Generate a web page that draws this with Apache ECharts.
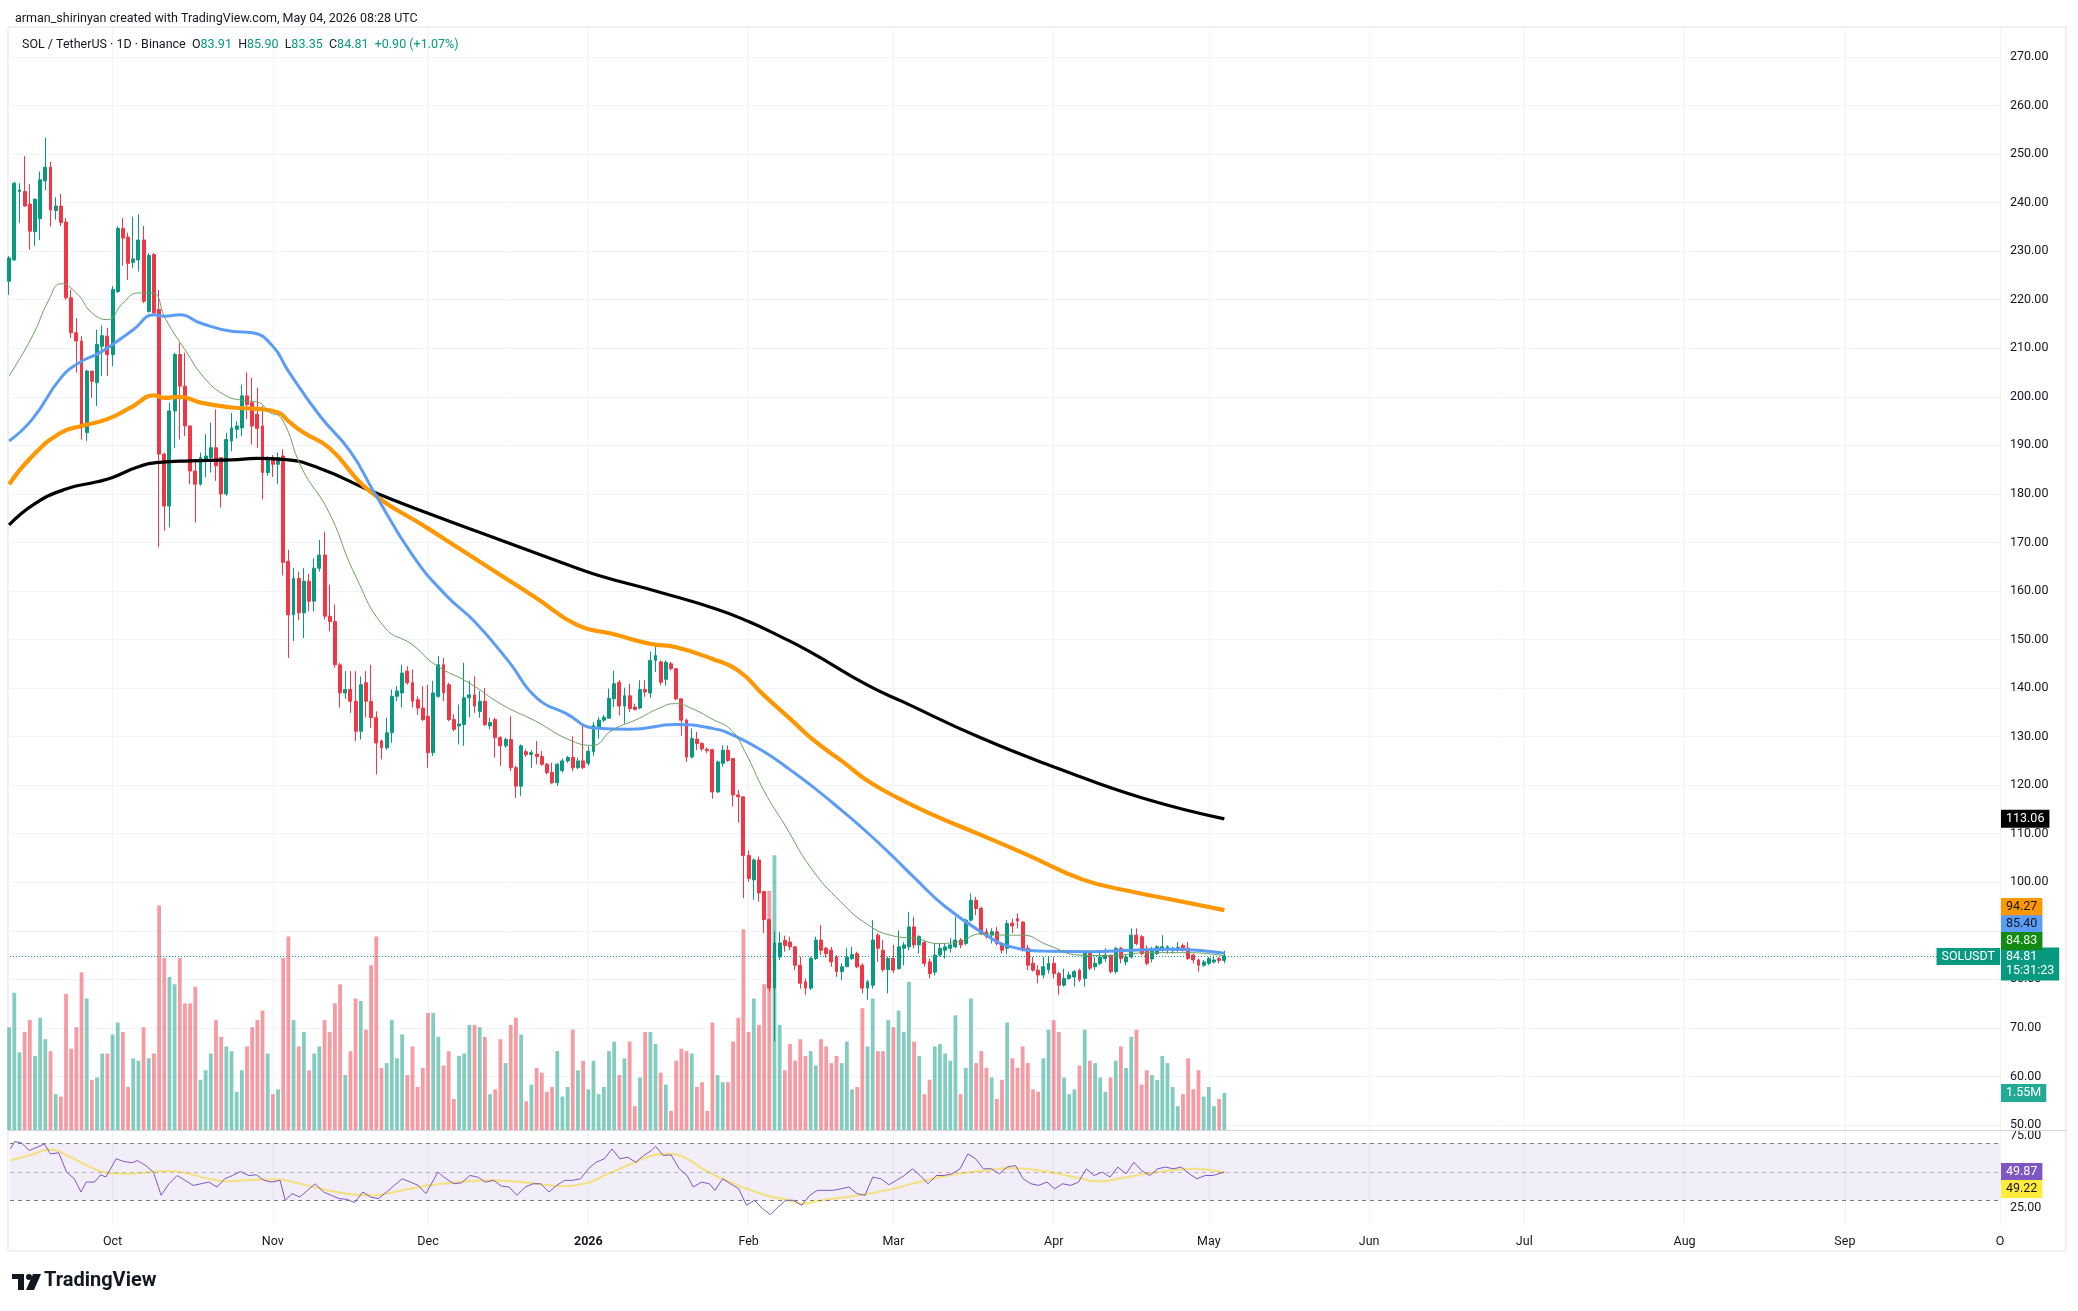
<!DOCTYPE html>
<html><head><meta charset="utf-8">
<script src="https://cdn.jsdelivr.net/npm/echarts@6/dist/echarts.min.js"></script>
<style>html,body{margin:0;padding:0;background:#fff}#chart{width:2078px;height:1311px}</style>
</head><body><div id="chart"></div>
<script>
// ---------------- DATA ----------------
const START = Date.UTC(2025, 8, 11);   // first daily candle: 11 Sep 2025
const DAY = 86400000;
// daily candles [open, high, low, close]
const ohlc = [
[223.8,229.0,221.0,228.6],[228.2,244.3,228.0,244.0],[242.3,244.0,235.8,242.6],[242.3,249.6,239.2,239.3],[239.7,243.8,230.3,234.1],
[234.0,240.9,231.1,240.7],[236.7,246.4,232.3,244.7],[244.5,253.4,242.6,247.3],[247.3,248.4,235.1,238.5],[238.4,241.1,236.5,239.3],
[239.3,241.8,235.2,235.9],[236.0,236.8,220.0,220.4],[220.4,222.1,212.1,213.2],[213.2,216.2,205.0,211.5],[211.5,212.5,191.2,193.6],
[192.6,205.6,190.9,205.3],[205.3,205.3,199.8,203.2],[202.9,213.8,198.1,210.8],[210.4,214.7,204.3,212.6],[212.5,214.2,204.3,208.7],
[208.7,222.8,206.3,222.1],[221.7,235.1,221.4,234.7],[234.7,236.8,227.0,232.7],[232.9,233.8,224.1,227.5],[227.7,237.1,226.5,228.4],
[228.2,237.6,225.8,232.3],[232.3,235.2,219.3,219.7],[217.6,229.6,217.3,229.1],[229.3,229.6,216.9,217.3],[218.0,222.0,169.0,188.2],
[188.2,188.5,172.4,177.5],[177.5,198.8,173.1,197.1],[197.1,209.1,189.5,208.7],[208.7,211.1,191.2,202.2],[202.2,209.1,191.9,194.0],
[194.0,194.0,182.0,184.7],[184.7,187.1,174.1,182.0],[182.0,188.5,181.7,187.5],[187.1,192.3,183.4,187.8],[187.5,194.7,184.4,189.5],
[189.5,197.4,182.7,185.8],[187.5,187.5,177.2,180.0],[180.0,192.6,179.6,191.2],[190.9,196.7,188.8,193.6],[193.3,195.0,191.4,194.0],
[193.6,202.5,191.9,200.2],[200.2,205.0,195.4,198.4],[198.8,203.9,190.2,194.0],[196.4,201.9,189.5,193.5],[194.0,198.1,178.9,184.4],
[184.4,187.8,183.7,187.5],[187.5,188.0,183.5,186.1],[186.1,188.5,182.0,187.5],[187.8,189.2,163.2,165.9],[166.1,168.5,146.2,155.1],
[155.1,164.7,149.7,162.6],[162.6,164.0,154.0,155.5],[155.5,164.7,150.3,162.0],[162.0,163.5,155.8,157.9],[157.9,166.7,155.8,164.7],
[164.7,170.5,164.0,167.4],[167.4,172.2,154.1,154.8],[154.8,161.3,151.7,153.7],[153.7,157.2,144.2,144.8],[144.8,145.2,136.0,139.0],
[139.0,143.5,137.8,139.7],[139.7,143.5,134.9,137.3],[137.3,143.5,129.1,131.1],[131.1,142.4,129.4,140.7],[141.1,143.5,133.9,137.3],
[137.3,144.8,131.8,133.9],[133.9,135.2,122.2,128.7],[129.1,129.4,125.3,127.7],[127.7,133.9,127.3,130.8],[130.8,139.7,128.7,138.3],
[138.3,140.4,137.3,139.4],[139.0,144.8,136.0,143.1],[143.5,144.5,140.7,141.1],[141.1,143.8,136.0,137.3],[137.6,138.3,134.5,135.9],
[135.9,140.4,133.2,133.5],[134.2,140.7,123.6,126.7],[126.7,141.5,126.0,139.0],[138.3,146.6,138.0,144.8],[144.8,146.2,137.3,139.0],
[140.7,141.1,133.2,133.5],[133.5,134.6,131.1,131.5],[132.2,136.6,128.4,132.6],[132.5,145.2,128.1,138.0],[138.0,141.5,134.0,138.6],
[138.6,142.4,134.9,136.3],[135.2,139.4,133.9,137.3],[137.3,140.0,132.2,132.5],[132.2,133.9,131.5,132.9],[133.5,133.9,125.7,129.8],
[129.8,130.1,124.0,128.1],[128.1,129.8,127.7,129.4],[129.4,134.2,122.9,123.6],[123.6,124.0,117.4,119.8],[119.8,128.4,117.8,128.1],
[126.9,127.4,125.8,126.3],[126.3,127.2,123.6,126.7],[126.4,129.1,124.3,125.9],[125.9,127.0,124.0,124.3],[124.3,124.6,122.2,122.6],
[122.6,124.6,120.2,120.5],[120.5,124.6,119.8,124.3],[123.0,125.5,122.6,125.0],[125.0,126.0,124.6,125.7],[125.7,130.1,122.9,123.6],
[123.6,125.7,123.3,125.0],[125.0,132.2,123.3,123.6],[124.5,128.0,124.0,127.0],[126.9,133.0,126.0,132.3],[132.0,134.0,129.6,133.4],
[133.4,134.5,133.0,134.0],[133.8,139.9,133.8,137.9],[137.8,143.6,136.1,140.9],[141.2,141.6,134.4,136.3],[136.3,140.1,132.7,138.4],
[138.4,140.9,135.1,135.8],[136.1,136.8,135.4,135.6],[135.9,141.6,135.6,139.7],[139.7,141.6,138.2,139.2],[139.0,147.5,138.0,145.7],
[145.7,148.6,143.3,146.7],[145.4,145.7,140.6,141.2],[141.8,145.7,140.5,145.3],[145.0,145.4,143.6,144.0],[144.0,144.1,137.5,137.8],
[137.8,137.8,130.2,133.4],[133.4,133.7,124.8,125.8],[125.8,131.7,125.5,129.6],[129.5,131.0,127.2,128.6],[128.6,128.8,127.0,127.5],
[127.4,127.8,126.6,127.1],[127.3,127.5,117.2,118.6],[118.6,125.1,118.4,124.8],[124.5,128.2,123.8,127.2],[127.2,128.2,124.8,125.1],
[125.5,125.6,115.6,118.0],[118.0,119.0,112.3,117.6],[117.6,117.6,96.7,105.5],[105.5,106.5,100.1,100.8],[100.5,104.9,96.4,104.6],
[104.6,105.3,96.0,97.8],[98.1,98.1,89.5,92.3],[92.3,92.5,77.5,78.2],[78.2,89.9,67.2,87.5],[84.6,89.8,84.0,87.5],
[88.0,89.0,85.7,87.0],[87.7,88.8,86.0,86.7],[86.7,86.7,81.9,82.9],[82.9,84.7,78.1,79.2],[79.5,80.2,76.8,78.2],
[78.2,84.7,77.8,84.3],[84.3,88.8,84.0,88.1],[88.1,91.2,85.0,86.0],[86.4,86.7,84.5,85.3],[86.0,86.7,82.6,83.6],
[84.6,85.0,80.5,81.6],[81.6,83.3,79.9,82.6],[82.6,86.4,82.6,84.6],[84.3,86.7,84.0,85.1],[85.3,85.7,82.3,82.6],
[82.9,83.3,77.1,78.2],[78.2,79.9,75.8,79.5],[78.8,92.2,78.1,88.1],[89.1,89.5,83.6,86.4],[86.0,88.1,81.6,82.0],
[82.0,84.7,77.1,84.3],[84.3,87.1,81.3,81.9],[82.2,90.1,82.0,86.7],[86.4,87.7,82.9,87.1],[86.7,93.9,86.0,90.8],
[90.8,92.9,86.4,87.1],[87.1,89.1,85.3,88.8],[87.6,88.0,82.6,83.3],[83.6,84.3,80.2,81.2],[81.5,87.4,80.8,85.0],
[85.0,87.4,84.7,86.4],[86.0,87.4,84.3,86.7],[86.4,88.5,85.5,87.1],[86.7,92.9,86.4,88.1],[88.1,88.5,86.4,87.1],
[87.4,92.5,87.0,92.2],[92.2,97.7,91.9,96.3],[96.3,97.0,93.2,94.6],[94.6,95.0,89.1,89.4],[89.8,90.5,88.4,88.8],
[89.1,90.5,87.4,89.8],[89.8,90.8,87.0,87.4],[87.4,87.7,85.3,86.0],[86.4,92.2,85.3,91.5],[91.6,92.5,89.5,91.0],
[92.5,93.6,90.5,92.0],[91.8,92.0,85.7,86.0],[86.4,87.1,81.9,82.9],[83.3,84.6,81.6,81.9],[81.9,82.9,79.2,80.9],
[80.9,84.6,80.2,82.6],[82.0,84.6,81.2,83.3],[83.3,84.6,80.2,81.2],[81.2,81.6,76.8,78.8],[78.8,82.2,78.5,80.2],
[80.2,81.6,79.9,80.9],[80.5,81.9,78.5,81.6],[81.9,82.2,79.5,79.9],[80.2,86.0,78.5,85.7],[85.7,86.0,81.9,82.3],
[82.6,84.6,81.9,83.3],[83.3,86.0,82.9,84.6],[84.3,86.4,83.6,85.0],[85.0,85.0,81.2,81.6],[81.6,86.7,81.2,86.4],
[86.4,86.7,83.3,84.3],[83.6,85.0,82.9,84.6],[84.6,90.5,84.3,89.1],[89.1,90.5,87.0,87.4],[88.8,89.1,85.0,85.3],
[86.0,87.0,82.9,83.3],[84.2,86.7,83.5,86.0],[85.3,87.0,85.0,86.7],[86.0,89.1,85.7,86.7],[86.4,87.0,85.3,86.7],
[86.0,86.7,85.3,86.4],[86.3,87.7,85.7,86.6],[87.0,87.4,85.7,86.0],[86.4,87.7,84.0,84.3],[85.0,85.3,83.3,84.0],
[84.0,84.3,81.6,82.9],[82.9,84.0,82.6,83.6],[83.3,84.6,82.9,84.3],[83.6,84.9,83.3,84.0],[84.3,84.6,83.3,83.91],
[83.91,85.90,83.35,84.81]
];
// daily volume, millions of SOL
const volumes = [
4.3,5.75,3.25,4.1,4.6,3.1,4.7,3.8,3.3,1.5, 1.4,5.7,3.4,4.3,6.6,5.5,2.1,2.2,3.2,3.2,
4.0,4.5,4.1,1.8,3.0,2.9,4.3,3.0,3.2,9.4, 7.2,6.4,6.1,7.2,5.3,5.3,6.0,2.1,2.5,3.2,
4.6,3.9,3.5,3.3,1.6,2.5,3.5,4.3,4.6,5.0, 3.2,1.5,1.7,7.2,8.1,4.6,3.5,4.1,2.5,3.2,
3.5,4.6,4.1,5.3,6.1,2.3,3.3,5.5,5.4,4.2, 6.9,8.1,2.6,2.8,4.6,3.0,4.0,2.3,3.5,1.8,
2.6,4.9,4.9,3.9,2.7,3.3,1.3,3.1,3.2,4.4, 4.4,4.3,3.9,1.5,1.7,3.8,2.8,4.4,4.7,4.0,
1.2,1.9,2.6,2.4,1.6,1.8,3.3,1.4,1.8,4.2, 2.5,2.9,1.7,2.9,1.5,1.8,3.3,3.7,2.3,3.0,
3.7,1.0,2.2,4.1,4.1,3.6,2.4,1.9,0.8,2.9, 3.4,3.3,3.2,1.8,2.0,0.8,4.5,2.3,2.0,2.0,
3.7,4.7,8.4,4.1,5.5,4.4,6.1,10.0,11.5,4.4, 2.5,3.6,2.9,3.8,3.1,3.3,2.7,3.8,3.5,2.8,
3.1,2.8,3.7,1.7,1.8,5.1,3.5,5.5,3.3,3.3, 4.6,4.3,5.0,4.1,6.2,3.7,3.1,1.5,2.1,3.5,
3.6,3.2,2.9,4.8,1.5,2.6,5.5,2.8,3.3,2.6, 2.2,1.3,2.1,4.5,3.0,2.6,3.5,2.8,1.7,1.6,
3.0,4.2,4.6,4.1,2.2,1.5,1.7,2.7,4.2,2.9, 2.8,2.2,1.6,2.2,2.9,3.5,2.6,3.9,4.2,1.9,
2.5,2.3,2.1,3.1,2.8,1.8,1.0,1.5,3.0,1.7, 2.5,1.4,1.8,1.0,1.3,1.55
];
// moving averages: [day index, value]
const ma20 = [[0,204.3],[4.5,212.5],[7.7,220],[10,223.3],[13,221.4],[16,217.3],[19,215.9],[22,219.3],[25,221.4],[27.7,221.4],[30.3,215.9],[34,209.7],[38,203.6],[42,200.2],[45,199.3],[48.4,198.8],[50.2,196.9],[52.7,195.5],[56.6,185.3],[61.8,176.3],[66.9,163.3],[72.7,152.4],[77.9,149],[82.4,144.8],[88.9,141.1],[95.3,136.6],[101.8,133.2],[108.2,129.4],[112.8,128.2],[116.6,131.3],[121.7,133.7],[125.6,135.8],[128.8,136.8],[132,135.8],[135.8,133.7],[139.7,131.3],[142.3,126.9],[146.1,118.6],[150,111.8],[155.1,102.9],[160.8,96],[166,91.3],[170.8,89],[175.5,88.4],[179.5,87.4],[183.4,87.7],[188.1,89.4],[192.9,89.1],[196,89.1],[200.8,87.1],[207.1,85],[212.6,84.9],[220.5,85.5],[228.4,85.5],[235,84.83]];
const ma50 = [[0,190.9],[4.5,195.4],[10,203.9],[13.5,207],[17.4,209],[20,210.8],[24,213.8],[28,216.9],[30,216.6],[33,216.9],[37,215.2],[43,213.5],[47,213.2],[51,210.4],[54,205.3],[60,196.2],[66,188.7],[70.5,180.5],[78,167.4],[84.4,159.2],[90,153.7],[96.6,145.5],[102,138],[108,134.6],[113,131.8],[120,131.5],[129,132.5],[136,131.7],[140,130.3],[146,126.9],[151,123.2],[156,119.2],[161,114.8],[166,110.2],[171,105.2],[175,101],[181,95],[189,89.1],[193,86.9],[201,85.8],[209,85.7],[217,86],[224.5,86.2],[235,85.4]];
const ma100 = [[0,182],[4.5,187.8],[10,192.6],[14,194],[19,195.4],[24,198.1],[28,200.3],[30,199.8],[33,200],[37,198.8],[43,197.8],[48,197.5],[52,196.8],[54,195],[57,192.6],[62,189.4],[69.5,180.8],[81,172.9],[89,167.4],[95,163.3],[102,158.5],[110,152.9],[116.6,151.2],[124,149.1],[129,148.4],[136,146],[141,143.6],[146,138.5],[151,133.7],[156,128.9],[161.5,124.6],[166,120.9],[172,117.3],[178,114.2],[188,109.7],[197,105.6],[207.5,100.6],[217,98.1],[224.5,96.5],[235,94.27]];
const ma200 = [[0,173.6],[5,178],[11,181],[17,182.5],[20,183.4],[25,185.6],[29,186.5],[35,186.8],[43,187],[48,187.3],[53,187.1],[60,185.3],[70,180.6],[81,176],[95,170.5],[108,165.4],[114,163.2],[126,159.7],[137,156.2],[143,153.7],[149,150.7],[155,147.4],[166,140.6],[173,137.1],[188,129.7],[203,123.4],[219,117.4],[235,113.06]];
// RSI(14) and its moving average: [day index, value]
const rsi = [[0.2,66.0],[1.1,71.2],[2.4,70.2],[3.9,64.9],[5.4,67.2],[6.8,69.5],[8.0,62.6],[9.6,63.3],[11.1,49.8],[12.6,45.1],[13.9,35.8],[14.9,42.8],[16.5,42.8],[17.7,47.9],[18.7,46.3],[20.7,59.1],[22.2,57.2],[23.8,56.3],[24.8,57.9],[26.4,54.4],[27.9,49.8],[29.4,33.5],[30.9,41.6],[32.5,47.4],[34.0,44.0],[35.6,40.5],[37.1,41.6],[38.6,42.8],[40.2,39.3],[41.7,45.1],[43.2,47.4],[44.7,50.2],[46.3,47.4],[47.8,47.9],[49.3,44.0],[50.8,42.8],[52.4,44.0],[53.4,30.0],[54.7,34.7],[56.2,32.3],[57.7,37.0],[59.2,41.6],[60.8,35.8],[62.3,33.5],[63.8,31.2],[65.3,30.7],[66.8,28.4],[68.4,35.8],[69.9,32.3],[71.4,31.2],[73.0,35.8],[74.5,40.5],[76.0,45.1],[77.6,42.8],[79.1,40.5],[80.6,34.7],[82.2,45.1],[82.9,49.8],[84.5,45.1],[86.0,41.6],[87.5,42.3],[89.1,47.4],[90.6,46.3],[92.1,42.8],[93.7,44.0],[95.2,40.0],[96.7,39.3],[98.2,33.5],[99.8,39.3],[101.3,41.6],[102.8,41.6],[104.4,35.8],[105.9,40.5],[107.4,44.0],[108.9,44.0],[110.5,45.1],[112.0,52.1],[113.5,56.7],[115.1,59.1],[116.6,66.0],[118.1,59.1],[119.6,60.2],[121.2,56.7],[122.7,61.4],[124.2,64.9],[125.0,67.9],[126.5,61.4],[128.0,61.9],[129.6,52.1],[131.1,47.4],[132.3,39.3],[133.9,42.8],[135.4,41.6],[136.5,37.0],[138.0,45.1],[139.5,41.6],[141.1,38.1],[142.6,26.5],[144.1,30.0],[145.7,24.2],[147.2,20.0],[148.7,25.3],[150.2,30.0],[151.7,30.0],[153.3,26.5],[154.8,33.5],[156.3,37.0],[157.8,37.0],[159.4,37.0],[160.9,38.1],[162.4,39.3],[164.0,34.7],[165.5,33.5],[167.0,46.3],[168.6,45.1],[170.1,40.9],[171.6,44.0],[173.1,47.4],[174.7,52.1],[176.2,47.4],[177.7,41.6],[179.3,47.4],[180.8,47.4],[182.3,48.6],[183.9,52.1],[185.4,62.6],[186.9,59.1],[188.4,52.1],[190.0,52.1],[191.5,48.6],[193.0,53.3],[194.6,54.4],[196.1,45.1],[197.6,41.6],[199.1,40.5],[200.7,42.8],[202.2,38.1],[203.7,41.6],[205.3,40.5],[206.8,42.8],[208.3,52.1],[209.8,47.4],[211.4,49.8],[212.9,46.3],[214.4,53.3],[216.0,48.6],[217.5,56.7],[219.0,50.9],[220.6,47.4],[222.1,52.1],[223.6,53.3],[225.1,52.1],[226.7,53.3],[228.2,48.6],[229.7,45.1],[231.3,47.4],[232.8,47.4],[235,49.87]];
const rsiMa = [[0.2,57.9],[4.2,61.9],[8.0,65.6],[11.9,60.2],[15.7,53.3],[19.5,49.1],[23.3,48.6],[27.1,49.8],[31.0,50.5],[34.8,48.6],[38.6,45.1],[42.4,43.3],[47.0,44.4],[51.6,44.7],[56.2,41.6],[60.8,37.7],[65.3,34.7],[69.9,33.5],[74.5,35.8],[79.1,39.3],[83.7,41.6],[88.3,43.3],[92.9,44.0],[97.5,43.3],[102.0,41.6],[106.6,40.0],[111.2,41.6],[115.8,48.6],[120.4,55.6],[125.0,61.9],[128.0,62.6],[131.1,59.1],[134.1,52.1],[137.2,46.3],[141.8,39.3],[146.4,33.5],[151.0,30.0],[153.3,27.7],[157.1,30.0],[161.7,32.3],[166.3,34.7],[170.9,38.1],[175.4,42.3],[180.0,46.3],[184.6,49.1],[189.2,50.9],[193.8,52.6],[196.8,52.1],[201.4,49.8],[206.0,46.3],[210.6,43.3],[215.2,45.6],[219.8,48.6],[224.4,50.9],[229.0,52.1],[235,49.22]];
// time-axis ticks and labels
const monthTicks = ['2025-10-01','2025-11-01','2025-12-01','2026-01-01','2026-02-01','2026-03-01','2026-04-01','2026-05-01','2026-06-01','2026-07-01','2026-08-01','2026-09-01','2026-10-01'];
const monthLabels = ['Oct','Nov','Dec','2026','Feb','Mar','Apr','May','Jun','Jul','Aug','Sep','O'];
const priceTicks = {min: 50, max: 270, step: 10};
const rsiTicks = [25, 75];

// ---------------- BUILD ----------------
const FONT = 'Roboto, "Liberation Sans", "DejaVu Sans", sans-serif';
const UP = '#089981', DOWN = '#F23645';
const CLEAR = 'rgba(0,0,0,0)';
const t = i => START + i * DAY;
const candleData = ohlc.map((r, i) => [t(i), r[0], r[3], r[2], r[1]]);
const volData = volumes.map((v, i) => ({
  value: [t(i), v],
  itemStyle: { color: ohlc[i][3] >= ohlc[i][0] ? 'rgba(8,153,129,0.5)' : 'rgba(242,54,69,0.5)' }
}));
const toLine = arr => arr.map(([i, v]) => [t(i), v]);
const tickTimes = monthTicks.map(s => Date.parse(s));
const X_MIN = START + 4 * 3600000;
const X_MAX = Date.parse('2026-10-01');
const last = a => a[a.length - 1][1];
const lastClose = ohlc[ohlc.length - 1][3];
const lastVol = volumes[volumes.length - 1];

const GL = 10, GR = 78;
function xAx(gi, extra) {
  return Object.assign({
    type: 'value', gridIndex: gi, min: X_MIN, max: X_MAX, scale: true,
    axisLine: { show: false },
    axisTick: { show: false, customValues: tickTimes },
    axisLabel: { show: false },
    splitLine: { show: false }
  }, extra || {});
}
function badgeLabel(text, bg, fg, dy, pos) {
  return {
    show: true, position: pos || 'end', distance: 1, formatter: text,
    backgroundColor: bg, color: fg, padding: [3, 5, 2, 5],
    fontSize: 12.5, fontFamily: FONT, lineHeight: 13, offset: [0, dy]
  };
}
function badge(value, text, bg, fg, dy) {
  return {
    silent: true, symbol: ['none', 'none'], animation: false,
    lineStyle: { color: CLEAR, width: 1, type: 'solid' },
    label: badgeLabel(text, bg, fg, dy),
    data: [{ yAxis: value, lineStyle: { color: CLEAR }, label: badgeLabel(text, bg, fg, dy) }]
  };
}
function maSeries(name, data, color, width, bg, fg, dy) {
  return {
    name, type: 'line', xAxisIndex: 1, yAxisIndex: 1, data: toLine(data),
    smooth: true, showSymbol: false, z: 4,
    lineStyle: { color, width }, itemStyle: { color },
    markLine: badge(last(data), last(data).toFixed(2), bg, fg, dy)
  };
}

const option = {
  animation: false,
  backgroundColor: '#ffffff',
  textStyle: { fontFamily: FONT },
  title: [
    { text: 'arman_shirinyan created with TradingView.com, May 04, 2026 08:28 UTC', left: 10, top: 7,
      textStyle: { fontSize: 12.5, fontWeight: 'normal', color: '#131722', fontFamily: FONT } },
    { text: '{a|SOL / TetherUS · 1D · Binance}  {k|O}{v|83.91}  {k|H}{v|85.90}  {k|L}{v|83.35}  {k|C}{v|84.81}  {v|+0.90 (+1.07%)}',
      left: 17, top: 33,
      textStyle: { fontSize: 12.5, fontWeight: 'normal', fontFamily: FONT,
        rich: { a: { color: '#131722', fontSize: 12.5, fontFamily: FONT },
                k: { color: '#131722', fontSize: 12.5, fontFamily: FONT },
                v: { color: UP, fontSize: 12.5, fontFamily: FONT } } } }
  ],
  graphic: [
    { type: 'rect', shape: { x: 8, y: 27, width: 2058, height: 1224 }, style: { fill: 'none', stroke: '#e0e3eb', lineWidth: 1 }, z: -10, silent: true },
    { type: 'line', shape: { x1: 8, y1: 1130.5, x2: 2066, y2: 1130.5 }, style: { stroke: '#d1d4dc', lineWidth: 1 }, z: 50, silent: true },
    { type: 'group', left: 12, top: 1274, silent: true, children: [
      { type: 'rect', shape: { x: 0, y: 0, width: 12, height: 5 }, style: { fill: '#131722' } },
      { type: 'rect', shape: { x: 6, y: 0, width: 6, height: 16 }, style: { fill: '#131722' } },
      { type: 'circle', shape: { cx: 17, cy: 3, r: 3 }, style: { fill: '#131722' } },
      { type: 'polygon', shape: { points: [[21, 0], [29, 0], [22, 16], [14, 16]] }, style: { fill: '#131722' } }
    ] },
    { type: 'text', left: 44, top: 1271, silent: true,
      style: { text: 'TradingView', fill: '#131722', font: 'bold 20px ' + FONT } }
  ],
  grid: [
    { left: GL, right: GR, top: 27, height: 1103 },   // background (vertical grid lines)
    { left: GL, right: GR, top: 57, height: 1068 },   // price
    { left: GL, right: GR, top: 700, height: 430 },   // volume overlay
    { left: GL, right: GR, top: 1130, height: 95 }    // RSI
  ],
  xAxis: [
    xAx(0, { splitLine: { show: true, lineStyle: { color: '#f0f3fa', width: 1 } } }),
    xAx(1),
    xAx(2),
    xAx(3, {
      splitLine: { show: true, lineStyle: { color: '#f0f3fa', width: 1 } },
      axisLabel: {
        show: true, customValues: tickTimes, margin: 10, color: '#131722', fontSize: 12.5, fontFamily: FONT,
        formatter: v => {
          const k = tickTimes.findIndex(x => Math.abs(x - v) < 1000);
          const s = k >= 0 ? monthLabels[k] : '';
          return k === 3 ? '{b|' + s + '}' : s;
        },
        rich: { b: { fontWeight: 'bold', fontSize: 12.5, color: '#131722', fontFamily: FONT } }
      }
    })
  ],
  yAxis: [
    { gridIndex: 0, type: 'value', min: 0, max: 1, show: false },
    { gridIndex: 1, type: 'value', position: 'right', min: priceTicks.min, max: priceTicks.max, interval: priceTicks.step,
      axisLine: { show: false }, axisTick: { show: false },
      axisLabel: { color: '#131722', fontSize: 12.5, fontFamily: FONT, margin: 10, formatter: v => v.toFixed(2) },
      splitLine: { lineStyle: { color: '#f0f3fa', width: 1 } } },
    { gridIndex: 2, type: 'value', min: 0, max: 18, show: false },
    { gridIndex: 3, type: 'value', position: 'right', min: 12.7, max: 79.3,
      axisLine: { show: false }, axisTick: { show: false, customValues: rsiTicks },
      axisLabel: { customValues: rsiTicks, color: '#131722', fontSize: 12.5, fontFamily: FONT, margin: 10, formatter: v => v.toFixed(2) },
      splitLine: { show: false } }
  ],
  series: [
    { type: 'line', xAxisIndex: 0, yAxisIndex: 0, data: [], silent: true },
    { name: 'Volume', type: 'bar', xAxisIndex: 2, yAxisIndex: 2, data: volData, barWidth: 3.8, z: 1, silent: true,
      markLine: badge(lastVol, '1.55M', '#22ab94', '#ffffff', 0) },
    { name: 'SOLUSDT', type: 'candlestick', xAxisIndex: 1, yAxisIndex: 1, data: candleData,
      encode: { x: 0, y: [1, 2, 3, 4] }, barWidth: 3.4, z: 3,
      itemStyle: { color: UP, color0: DOWN, borderColor: UP, borderColor0: DOWN, borderWidth: 1 },
      markLine: {
        silent: true, symbol: ['none', 'none'], animation: false,
        data: [
          { yAxis: lastClose, lineStyle: { type: [1, 2], color: UP, width: 1 },
            label: { show: true, position: 'end', distance: 1, formatter: lastClose.toFixed(2) + '\n15:31:23',
              backgroundColor: UP, color: '#ffffff', padding: [3, 5, 2, 5], fontSize: 12.5, fontFamily: FONT,
              lineHeight: 14, align: 'left', offset: [0, 8] } },
          { yAxis: lastClose, lineStyle: { color: CLEAR, width: 1, type: 'solid' },
            label: { show: true, position: 'insideEndTop', distance: 0, formatter: 'SOLUSDT',
              backgroundColor: UP, color: '#ffffff', padding: [3, 5, 2, 5], fontSize: 12.5, fontFamily: FONT,
              lineHeight: 12, offset: [0, 9] } }
        ]
      } },
    maSeries('MA200', ma200, '#000000', 3.2, '#000000', '#ffffff', 0),
    maSeries('MA100', ma100, '#FF9800', 4.2, '#FF9800', '#131722', -3),
    maSeries('MA50', ma50, '#5B9CF6', 3, '#5B9CF6', '#131722', -29),
    maSeries('MA20', ma20, '#6b9f62', 1, '#138a13', '#e6ffe6', -15),
    { name: 'RSI', type: 'line', xAxisIndex: 3, yAxisIndex: 3, data: toLine(rsi), showSymbol: false, z: 4,
      lineStyle: { color: '#7E57C2', width: 1 }, itemStyle: { color: '#7E57C2' },
      markArea: { silent: true, itemStyle: { color: 'rgba(126,87,194,0.1)' }, data: [[{ yAxis: 30 }, { yAxis: 70 }]] },
      markLine: {
        silent: true, symbol: ['none', 'none'], animation: false,
        data: [
          { yAxis: 70, lineStyle: { type: [4, 4], color: '#787b86', width: 1 }, label: { show: false } },
          { yAxis: 50, lineStyle: { type: [4, 4], color: 'rgba(120,123,134,0.5)', width: 1 }, label: { show: false } },
          { yAxis: 30, lineStyle: { type: [4, 4], color: '#787b86', width: 1 }, label: { show: false } },
          { yAxis: last(rsi), lineStyle: { color: CLEAR, width: 1, type: 'solid' },
            label: badgeLabel(last(rsi).toFixed(2), '#7E57C2', '#ffffff', 0) }
        ]
      } },
    { name: 'RSI MA', type: 'line', xAxisIndex: 3, yAxisIndex: 3, data: toLine(rsiMa), showSymbol: false, smooth: true, z: 3,
      lineStyle: { color: 'rgba(245,215,40,0.55)', width: 2.2 },
      markLine: badge(last(rsiMa), last(rsiMa).toFixed(2), '#FFEB3B', '#131722', 16) }
  ]
};

const chart = echarts.init(document.getElementById('chart'), null, { renderer: 'canvas', width: 2078, height: 1311 });
chart.setOption(option);
</script>
</body></html>
